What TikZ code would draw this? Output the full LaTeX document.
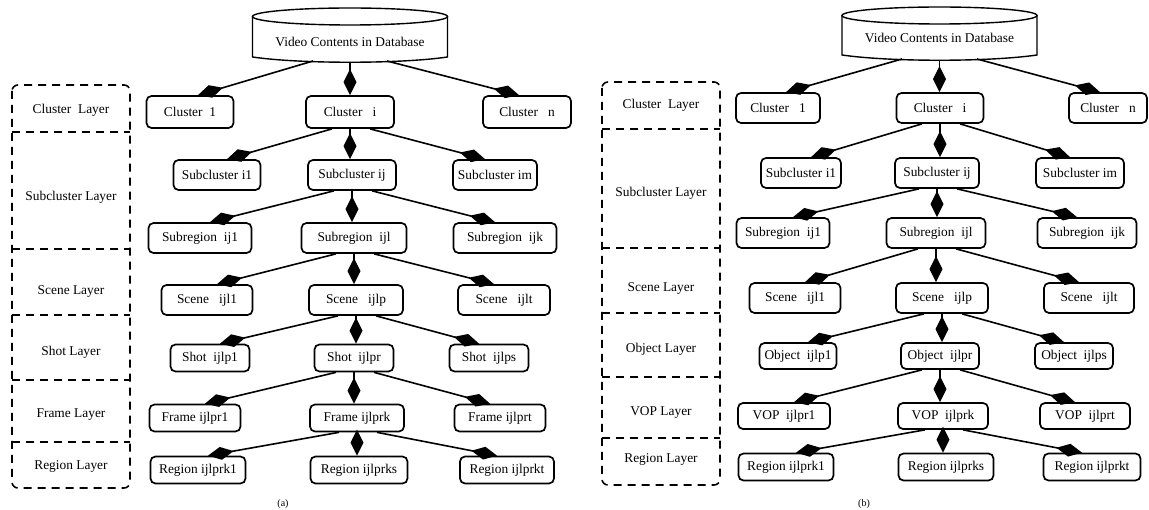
\documentclass[tikz,border=0pt]{standalone}
\usepackage{fontspec}
\setmainfont{Liberation Serif}
\usetikzlibrary{arrows.meta,calc}

\tikzset{
  box/.style={draw, line width=1.7pt, rounded corners=5pt, fill=white, inner sep=0pt, minimum height=30pt},
  link/.style={line width=1.6pt, -{Kite[length=26pt,width=13pt,inset=13pt]}},
  layerline/.style={line width=1.6pt, dash pattern=on 8pt off 6pt},
  layertext/.style={inner sep=0pt},
  dbline/.style={line width=1.4pt},
}

\begin{document}
\begin{tikzpicture}[x=1pt,y=-1pt,font=\fontsize{13.4}{16}\selectfont]
\useasboundingbox (0,0) rectangle (1149,510);

% ---------- (a) ----------
\draw[dbline] (350,16.5) ellipse [x radius=97.5, y radius=8.5];
\draw[dbline] (252.5,16.5) -- (252.5,57) .. controls (300,64) and (400,64) .. (447.5,57) -- (447.5,16.5);
\node (adb) at (350,42) {Video Contents in Database};
\coordinate (adbl) at (313,61);
\coordinate (adbc) at (350,62);
\coordinate (adbr) at (387,61);

% layers
\draw[layerline, rounded corners=6pt] (12,85) rectangle (130,488);
\foreach \y in {132,249,315,380,442}
  \draw[layerline] (12,\y) -- (130,\y);
\node[layertext] (alcl) at (71,110) {Cluster~~Layer};
\node[layertext] (alsc) at (71,197) {Subcluster Layer};
\node[layertext] (alsn) at (71,292) {Scene Layer};
\node[layertext] (alsh) at (71,352) {Shot Layer};
\node[layertext] (alfr) at (71,415) {Frame Layer};
\node[layertext] (alrg) at (71,467) {Region Layer};

% tree
\node[box, minimum width=87pt, minimum height=32pt] (ac1) at (190,112) {Cluster~~1};
\node[box, minimum width=88pt, minimum height=32pt] (aci) at (350,112) {Cluster~~~i};
\node[box, minimum width=88pt, minimum height=32pt] (acn) at (527,112) {Cluster~~~n};
\node[box, minimum width=87pt] (as1) at (217,175) {Subcluster i1};
\node[box, minimum width=88pt] (asj) at (352,175) {Subcluster ij};
\node[box, minimum width=84pt] (asm) at (495,175) {Subcluster im};
\node[box, minimum width=103pt] (ar1) at (200,238) {Subregion~~ij1};
\node[box, minimum width=105pt] (arl) at (354,238) {Subregion~~ijl};
\node[box, minimum width=103pt] (ark) at (505,238) {Subregion~~ijk};
\node[box, minimum width=91pt] (ae1) at (207,300) {Scene~~~ijl1};
\node[box, minimum width=94pt] (aep) at (356,300) {Scene~~~ijlp};
\node[box, minimum width=92pt] (aet) at (504,300) {Scene~~~ijlt};
\node[box, minimum width=79pt, minimum height=27pt] (ah1) at (210,358) {Shot~~ijlp1};
\node[box, minimum width=79pt, minimum height=27pt] (ahr) at (354,358) {Shot~~ijlpr};
\node[box, minimum width=79pt, minimum height=27pt] (ahs) at (489,358) {Shot~~ijlps};
\node[box, minimum width=91pt, minimum height=27pt] (af1) at (195,418) {Frame ijlpr1};
\node[box, minimum width=94pt, minimum height=27pt] (afk) at (357,418) {Frame ijlprk};
\node[box, minimum width=91pt, minimum height=27pt] (aft) at (500,418) {Frame ijlprt};
\node[box, minimum width=95pt, minimum height=27pt] (ag1) at (198,470) {Region ijlprk1};
\node[box, minimum width=97pt, minimum height=27pt] (ags) at (359,470) {Region ijlprks};
\node[box, minimum width=94pt, minimum height=27pt] (agt) at (507,470) {Region ijlprkt};
\node[font=\fontsize{10}{12}\selectfont] (acap) at (283,504) {(a)};

% ---------- (b) ----------
\draw[dbline] (939.5,15.5) ellipse [x radius=97.5, y radius=8.5];
\draw[dbline] (842,15.5) -- (842,55) .. controls (890,62) and (989,62) .. (1037,55) -- (1037,15.5);
\node (bdb) at (939.5,38) {Video Contents in Database};
\coordinate (bdbl) at (902,59);
\coordinate (bdbc) at (939.5,60);
\coordinate (bdbr) at (977,59);

% layers
\draw[layerline, rounded corners=6pt] (602,82) rectangle (720,485);
\foreach \y in {129,248,313,377,438}
  \draw[layerline] (602,\y) -- (720,\y);
\node[layertext] (blcl) at (661,105) {Cluster~~Layer};
\node[layertext] (blsc) at (661,193) {Subcluster Layer};
\node[layertext] (blsn) at (661,289) {Scene Layer};
\node[layertext] (blob) at (661,349) {Object Layer};
\node[layertext] (blvp) at (661,413) {VOP Layer};
\node[layertext] (blrg) at (661,460) {Region Layer};

% tree
\node[box, minimum width=84pt] (bc1) at (778,108) {Cluster~~~1};
\node[box, minimum width=87pt] (bci) at (940,108) {Cluster~~~i};
\node[box, minimum width=78pt] (bcn) at (1108,108) {Cluster~~~n};
\node[box, minimum width=80pt] (bs1) at (801,173) {Subcluster i1};
\node[box, minimum width=84pt] (bsj) at (937,173) {Subcluster ij};
\node[box, minimum width=88pt] (bsm) at (1080,173) {Subcluster im};
\node[box, minimum width=93pt] (br1) at (783,233) {Subregion~~ij1};
\node[box, minimum width=99pt] (brl) at (936,233) {Subregion~~ijl};
\node[box, minimum width=99pt] (brk) at (1087,233) {Subregion~~ijk};
\node[box, minimum width=91pt] (be1) at (795,298) {Scene~~~ijl1};
\node[box, minimum width=92pt] (bep) at (942,298) {Scene~~~ijlp};
\node[box, minimum width=90pt] (bet) at (1089,298) {Scene~~~ijlt};
\node[box, minimum width=77pt, minimum height=26pt] (bh1) at (798,356) {Object~~ijlp1};
\node[box, minimum width=78pt, minimum height=26pt] (bhr) at (940,356) {Object~~ijlpr};
\node[box, minimum width=78pt, minimum height=26pt] (bhs) at (1074,356) {Object~~ijlps};
\node[box, minimum width=92pt, minimum height=26pt] (bf1) at (784,416) {VOP~~ijlpr1};
\node[box, minimum width=90pt, minimum height=26pt] (bfk) at (943,416) {VOP~~ijlprk};
\node[box, minimum width=90pt, minimum height=26pt] (bft) at (1085,416) {VOP~~ijlprt};
\node[box, minimum width=95pt, minimum height=27pt] (bg1) at (786,467) {Region ijlprk1};
\node[box, minimum width=95pt, minimum height=27pt] (bgs) at (946,467) {Region ijlprks};
\node[box, minimum width=97pt, minimum height=27pt] (bgt) at (1092,467) {Region ijlprkt};
\node[font=\fontsize{10}{12}\selectfont] (bcap) at (864,504) {(b)};

% ---------- links ----------
\foreach \q in {a,b}{
  \draw[link] (\q dbl) -- ($(\q c1.north)+(8,0)$);
  \draw[link] (\q dbc) -- (\q dbc |- \q ci.north);
  \draw[link] (\q dbr) -- ($(\q cn.north)+(-8,0)$);
  \foreach \p/\l/\m/\r in {ci/s1/sj/sm, sj/r1/rl/rk, rl/e1/ep/et, ep/h1/hr/hs, hr/f1/fk/ft, fk/g1/gs/gt}{
    \draw[link] ($(\q\p.south)+(-18,0)$) -- ($(\q\l.north)+(10,0)$);
    \draw[link] (\q\p.south) -- (\q\p.south |- \q\m.north);
    \draw[link] ($(\q\p.south)+(20,0)$) -- ($(\q\r.north)+(-10,0)$);
  }
}
\end{tikzpicture}
\end{document}
